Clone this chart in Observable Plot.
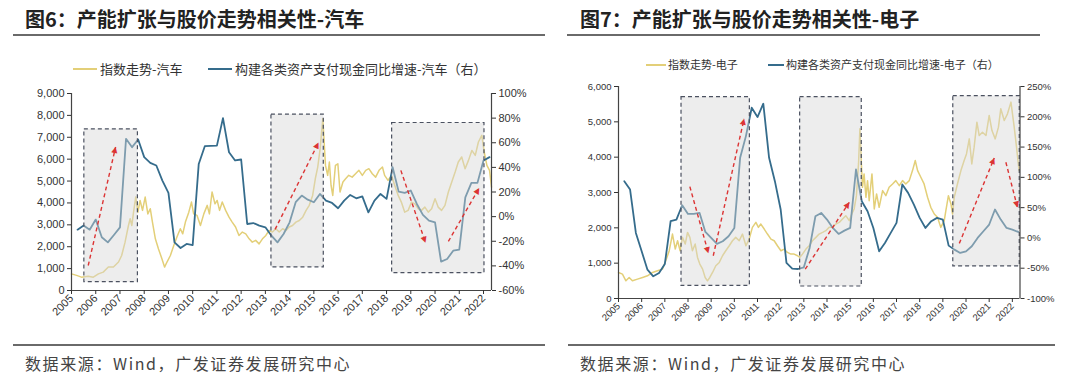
<!DOCTYPE html>
<html><head><meta charset="utf-8">
<script src="https://cdn.jsdelivr.net/npm/d3@7"></script>
<script src="https://cdn.jsdelivr.net/npm/@observablehq/plot@0.6"></script>
<style>
body{margin:0;background:#fff;width:1080px;height:381px;overflow:hidden;position:relative;font-family:"Noto Sans CJK SC",sans-serif;}
.abs{position:absolute}
.title{font-weight:700;font-size:20px;line-height:20px;color:#222;white-space:nowrap}
.rule{height:2px;background:#6a6a6a}
.leg{color:#333;white-space:nowrap}
.sw{height:2px}
.cap{font-size:16px;line-height:16px;letter-spacing:1.6px;color:#444;white-space:nowrap}
</style></head><body>
<div id="root"></div>
<script>
// ---------- text ----------
const titles = ["图6：产能扩张与股价走势相关性-汽车", "图7：产能扩张与股价走势相关性-电子"];
const legendIdx = ["指数走势-汽车", "指数走势-电子"];
const legendCapex = ["构建各类资产支付现金同比增速-汽车（右）", "构建各类资产支付现金同比增速-电子（右）"];
const captionText = "数据来源：Wind，广发证券发展研究中心";

// ---------- axes ----------
const yearTicks = d3.range(2005, 2023);
const autoLeftTicks = d3.range(0, 9001, 1000);
const autoRightTicks = [-60, -40, -20, 0, 20, 40, 60, 80, 100];
const elecLeftTicks = d3.range(0, 6001, 1000);
const elecRightTicks = [-100, -50, 0, 50, 100, 150, 200, 250];

// ---------- data: 汽车 ----------
const autoIdx = [[2005.00,760],[2005.21,690],[2005.41,610],[2005.69,655],[2005.90,610],[2006.11,760],[2006.31,840],[2006.52,1070],[2006.73,1070],[2006.94,1300],[2007.07,1600],[2007.21,2210],[2007.35,2970],[2007.42,3280],[2007.49,2970],[2007.56,3580],[2007.65,4270],[2007.74,3580],[2007.83,4115],[2007.93,3660],[2008.04,4270],[2008.15,3500],[2008.25,3735],[2008.34,3125],[2008.46,2360],[2008.59,1900],[2008.73,1450],[2008.84,1070],[2008.94,1300],[2009.08,1600],[2009.22,2060],[2009.35,2440],[2009.49,2820],[2009.59,2590],[2009.70,3125],[2009.84,3580],[2009.95,4040],[2010.04,3500],[2010.18,3430],[2010.32,2970],[2010.46,3500],[2010.60,3890],[2010.69,3500],[2010.80,4500],[2010.92,3960],[2011.01,4115],[2011.11,3660],[2011.22,4040],[2011.36,3660],[2011.50,3350],[2011.63,3125],[2011.77,2900],[2011.91,2515],[2012.05,2670],[2012.19,2590],[2012.33,2360],[2012.46,2210],[2012.60,2290],[2012.74,2130],[2012.88,2360],[2013.02,2515],[2013.15,2740],[2013.29,2670],[2013.43,2820],[2013.57,2670],[2013.71,2820],[2013.85,2740],[2013.98,2900],[2014.12,2970],[2014.26,3125],[2014.40,3200],[2014.54,3350],[2014.68,3660],[2014.81,3890],[2014.95,4345],[2015.06,5105],[2015.16,5640],[2015.26,6480],[2015.37,7850],[2015.48,5715],[2015.57,5260],[2015.64,5870],[2015.71,4800],[2015.78,4345],[2015.89,5715],[2015.99,5790],[2016.08,4500],[2016.20,4955],[2016.31,5105],[2016.44,5260],[2016.58,5180],[2016.72,5335],[2016.86,5490],[2017.00,5260],[2017.14,5490],[2017.27,5565],[2017.41,5335],[2017.55,5180],[2017.69,5490],[2017.83,5640],[2017.92,5260],[2018.06,5030],[2018.20,5260],[2018.34,4800],[2018.48,4345],[2018.61,4040],[2018.75,3580],[2018.89,3660],[2019.03,4040],[2019.17,3960],[2019.31,3735],[2019.44,3660],[2019.58,3810],[2019.72,3580],[2019.86,3735],[2020.00,4190],[2020.13,3810],[2020.27,3660],[2020.41,3890],[2020.55,4500],[2020.69,4955],[2020.83,5410],[2020.96,5870],[2021.10,6100],[2021.24,5565],[2021.38,5945],[2021.52,6400],[2021.66,6175],[2021.79,6785],[2021.93,7090],[2022.03,6325],[2022.14,5715],[2022.25,5490],[2022.33,4725]];
// quarterly, 2005Q1 .. 2022Q1 (%)
const autoCapex = [-10.6,-7.3,-10.6,-2.4, -16.8,-20.9,-14.9,-8.7, 63.2,56.4,62.6,48.3, 43.7,41.5,29.3,19.3, -20.9,-25.5,-22.2,-23.1, 42.8,57.2,57.5,57.7, 80.0,52.3,45.6,46.4, -6.0,-5.2,-7.3,-8.7, -15.5,-20.9,-14.1,-4.6, 11.7,17.1,13.8,11.7, 18.4,13.0,11.1,6.8, 13.0,17.6,14.9,16.5, 3.5,13.0,18.4,14.4, 40.1,20.3,19.3,21.2, 10.3,1.4,-3.3,-4.6, -36.6,-34.4,-27.7,-26.8, 15.7,27.4,27.4,45.6, 48.3];
// boxes: [t1, t2, low, high]  arrows: [t1, v1, t2, v2] (left-axis units)
const autoBoxes = [[2005.53,2007.74,381,7363],[2013.25,2015.41,1052,8034],[2018.23,2022.04,793,7652]];
const autoArrows = [[2005.69,1143,2006.82,6555],[2013.40,2790,2015.19,6753],[2018.59,5488,2019.61,2180],[2020.55,2241,2021.82,4680]];

// ---------- data: 电子 ----------
const elecIdx = [[2005.00,737],[2005.17,690],[2005.32,500],[2005.46,595],[2005.60,500],[2005.82,548],[2006.04,595],[2006.25,643],[2006.47,737],[2006.68,784],[2006.90,832],[2007.04,1068],[2007.19,1352],[2007.33,1824],[2007.45,1399],[2007.55,1635],[2007.66,1352],[2007.76,1730],[2007.88,1541],[2007.98,1871],[2008.08,1730],[2008.19,1352],[2008.31,1541],[2008.41,1163],[2008.51,974],[2008.63,832],[2008.74,595],[2008.84,500],[2008.94,595],[2009.06,737],[2009.20,926],[2009.35,1021],[2009.49,1210],[2009.63,1352],[2009.78,1493],[2009.92,1635],[2010.06,1730],[2010.21,1635],[2010.35,1824],[2010.50,1493],[2010.64,1682],[2010.78,2013],[2010.93,2155],[2011.04,2013],[2011.14,2108],[2011.29,1966],[2011.43,1824],[2011.58,1682],[2011.72,1635],[2011.86,1493],[2012.01,1352],[2012.15,1399],[2012.29,1304],[2012.44,1257],[2012.58,1257],[2012.73,1210],[2012.83,1163],[2012.94,1257],[2013.09,1399],[2013.23,1493],[2013.37,1635],[2013.52,1730],[2013.66,1824],[2013.81,1871],[2013.95,1919],[2014.09,2013],[2014.24,2013],[2014.38,2108],[2014.53,2155],[2014.67,2250],[2014.81,2344],[2014.96,2202],[2015.07,2391],[2015.17,2533],[2015.27,2911],[2015.36,3809],[2015.42,4801],[2015.47,3998],[2015.53,3147],[2015.60,3526],[2015.68,2864],[2015.75,3336],[2015.82,2769],[2015.94,3526],[2016.04,2533],[2016.14,2958],[2016.25,2580],[2016.40,3053],[2016.54,2911],[2016.68,3147],[2016.83,3242],[2016.97,3336],[2017.12,3195],[2017.26,3336],[2017.40,3242],[2017.55,3336],[2017.69,3620],[2017.81,3904],[2017.91,3620],[2018.05,3431],[2018.19,3242],[2018.34,2864],[2018.48,2580],[2018.63,2391],[2018.77,2297],[2018.91,2013],[2019.06,2202],[2019.13,2486],[2019.24,2911],[2019.35,2675],[2019.42,2391],[2019.49,2864],[2019.63,3242],[2019.78,3620],[2019.92,3904],[2020.02,4093],[2020.14,4518],[2020.25,3809],[2020.35,4282],[2020.47,4991],[2020.57,4612],[2020.71,4707],[2020.86,4612],[2021.00,5180],[2021.12,4754],[2021.26,4518],[2021.40,4849],[2021.50,5369],[2021.65,5038],[2021.79,5227],[2021.94,5558],[2022.08,4849],[2022.18,4282],[2022.29,3620]];
const elecCapex = [93.7,79.9,8.3,-22.1, -52.4,-63.4,-57.9,-43.0, 27.6,30.3,54.0,39.7, 39.7,41.3,9.9,0, -9.9,-5.5,2.8,16.5, 132.3,168.1,215.0,199.6, 221.6,132.3,93.7,46.9, -41.3,-50.7,-51.3,-48.5, -16.5,35.8,41.3,30.3, 16.5,6.6,12.1,16.5, 113.0,60.6,44.1,16.5, -22.1,-8.3,8.3,24.8, 88.2,74.4,55.1,33.1, 16.5,27.6,33.1,30.3, -12.7,-19.3,-24.8,-22.1, -13.8,0,11.0,22.1, 46.9,30.3,16.5,13.8, 9.9];
const elecBoxes = [[2007.72,2010.67,359,5699],[2012.84,2015.50,340,5699],[2019.45,2022.32,907,5728]];
const elecArrows = [[2008.08,3166,2008.88,1285],[2009.09,1210,2010.42,5085],[2013.06,832,2014.96,2722],[2019.71,1560,2021.22,3979],[2021.72,3856,2022.22,2580]];

const quarterT = d3.range(autoCapex.length).map(i => 2005.25 + i * 0.25);
const xDomain = [2005, 2022.33];

const YELLOW = "#e3cf78", BLUE = "#356c8c", RED = "#dc3434";

function chart(o) {
  const r2l = d3.scaleLinear(o.rDomain, [0, o.yMax]);
  const capexRows = o.capex.map((p, i) => ({t: quarterT[i], p}));
  const xs = d3.scaleLinear(xDomain, [o.ml, o.width - o.mr]);
  const ys = d3.scaleLinear([0, o.yMax], [o.height - o.mb, o.mt]);
  const heads = o.arrows.map(a => {
    const dx = xs(a[2]) - xs(a[0]), dy = ys(a[3]) - ys(a[1]);
    const len = Math.hypot(dx, dy);
    const ang = Math.atan2(dx, -dy) * 180 / Math.PI;
    return Plot.text([a], {x: d => d[2], y: d => d[3], text: () => "▲", rotate: ang,
      fill: RED, fontSize: 8, fontFamily: "DejaVu Sans", dx: -dx / len * 2.5, dy: -dy / len * 2.5});
  });
  return Plot.plot({
    width: o.width, height: o.height,
    marginLeft: o.ml, marginRight: o.mr, marginTop: o.mt, marginBottom: o.mb,
    style: {fontFamily: "Liberation Sans, Arial, sans-serif", fontSize: o.fs + "px", color: "#333", background: "transparent", overflow: "visible"},
    x: {domain: xDomain, label: null},
    y: {domain: [0, o.yMax], label: null},
    marks: [
      Plot.line(o.idx, {x: d => d[0], y: d => d[1], stroke: YELLOW, strokeWidth: 1.5}),
      Plot.line(capexRows, {x: "t", y: d => r2l(d.p), stroke: BLUE, strokeWidth: 1.8}),
      Plot.rect(o.boxes, {x1: d => d[0], x2: d => d[1], y1: d => d[2], y2: d => d[3],
        fill: "#d6d6d6", fillOpacity: 0.45, stroke: "#4b5160", strokeWidth: 1.2, strokeDasharray: "4,3"}),
      Plot.link(o.arrows, {x1: d => d[0], y1: d => d[1], x2: d => d[2], y2: d => d[3],
        stroke: RED, strokeWidth: 1.4, strokeDasharray: "4,3"}),
      ...heads,
      Plot.ruleX([xDomain[0]], {stroke: "#444", strokeWidth: 1.2}),
      Plot.ruleX([xDomain[1]], {stroke: "#444", strokeWidth: 1.2}),
      Plot.ruleY([0], {stroke: "#444", strokeWidth: 1.2}),
      Plot.axisY({ticks: o.leftTicks, tickFormat: d3.format(","), tickSize: 4, tickPadding: 3, label: null}),
      Plot.axisY({anchor: "right", ticks: o.rightTicks.map(r2l), tickFormat: v => Math.round(r2l.invert(v)) + "%", tickSize: 4, tickPadding: 3, label: null}),
      Plot.axisX({ticks: yearTicks, tickFormat: d => String(d), tickRotate: -45, tickSize: 4, tickPadding: 2, label: null})
    ]
  });
}

const root = document.getElementById("root");
function add(html) { root.insertAdjacentHTML("beforeend", html); }

// panel 1
add(`<div class="abs title" style="left:25px;top:9px">${titles[0]}</div>`);
add(`<div class="abs rule" style="left:13px;top:34px;width:532px"></div>`);
add(`<div class="abs sw" style="left:73px;top:68px;width:24px;background:${YELLOW}"></div>`);
add(`<div class="abs leg" style="left:100px;top:62px;font-size:13px;line-height:13px">${legendIdx[0]}</div>`);
add(`<div class="abs sw" style="left:208px;top:68px;width:24px;background:${BLUE}"></div>`);
add(`<div class="abs leg" style="left:235px;top:62px;font-size:13px;line-height:13px">${legendCapex[0]}</div>`);
add(`<div class="abs rule" style="left:13px;top:344px;width:532px"></div>`);
add(`<div class="abs cap" style="left:25px;top:355px">${captionText}</div>`);

// panel 2
add(`<div class="abs title" style="left:580px;top:9px">${titles[1]}</div>`);
add(`<div class="abs rule" style="left:567px;top:34px;width:473px"></div>`);
add(`<div class="abs sw" style="left:646px;top:64px;width:20px;background:${YELLOW}"></div>`);
add(`<div class="abs leg" style="left:668px;top:59px;font-size:11px;line-height:11px">${legendIdx[1]}</div>`);
add(`<div class="abs sw" style="left:768px;top:64px;width:16px;background:${BLUE}"></div>`);
add(`<div class="abs leg" style="left:786px;top:59px;font-size:11px;line-height:11px">${legendCapex[1]}</div>`);
add(`<div class="abs rule" style="left:568px;top:344px;width:487px"></div>`);
add(`<div class="abs cap" style="left:580px;top:355px">${captionText}</div>`);

const c1 = chart({width: 540, height: 260, ml: 71, mr: 49, mt: 13, mb: 50, yMax: 9000, rDomain: [-60, 100],
  leftTicks: autoLeftTicks, rightTicks: autoRightTicks, idx: autoIdx, capex: autoCapex, boxes: autoBoxes, arrows: autoArrows, fs: 11});
const w1 = document.createElement("div"); w1.className = "abs"; w1.style.left = "0px"; w1.style.top = "80px";
w1.appendChild(c1); root.appendChild(w1);

const c2 = chart({width: 540, height: 265, ml: 78, mr: 60.5, mt: 11, mb: 42, yMax: 6000, rDomain: [-100, 250],
  leftTicks: elecLeftTicks, rightTicks: elecRightTicks, idx: elecIdx, capex: elecCapex, boxes: elecBoxes, arrows: elecArrows, fs: 9.5});
const w2 = document.createElement("div"); w2.className = "abs"; w2.style.left = "540px"; w2.style.top = "75px";
w2.appendChild(c2); root.appendChild(w2);
</script>
</body></html>
